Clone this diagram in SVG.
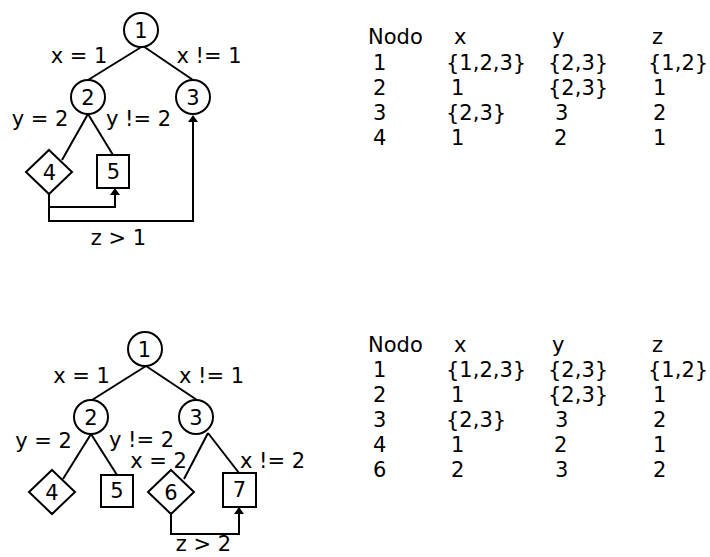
<svg xmlns="http://www.w3.org/2000/svg" width="710" height="557" viewBox="0 0 710 557">
  <style>
    text { font-family: "DejaVu Sans", "Liberation Sans", sans-serif; font-size: 21px; fill: #000; }
    .c { text-anchor: middle; }
    .shape { fill: #fff; stroke: #000; stroke-width: 2; }
    .edge { fill: none; stroke: #000; stroke-width: 2; }
    .arr { marker-end: url(#head); }
  </style>
  <defs>
    <marker id="head" markerUnits="userSpaceOnUse" viewBox="0 0 7 10" refX="0" refY="5" markerWidth="7" markerHeight="10" orient="auto">
      <path d="M0,0 L7,5 L0,10 z" fill="#000"/>
    </marker>
  </defs>

  <!-- ===== Upper tree ===== -->
  <g id="upper-connectors">
    <path class="edge" d="M143,46 L88,80"/>
    <path class="edge" d="M143,46 L193,80"/>
    <path class="edge" d="M88,114 L62,160"/>
    <path class="edge" d="M88,114 L113,155"/>
    <path class="edge arr" d="M49,194 V207 H115 V195"/>
    <path class="edge arr" d="M49,194 V221 H193 V122"/>
    <text class="c" x="79" y="63">x = 1</text>
    <text class="c" x="209" y="63">x != 1</text>
    <text class="c" x="40" y="126">y = 2</text>
    <text class="c" x="138.5" y="126">y != 2</text>
    <text class="c" x="118.5" y="245">z &gt; 1</text>
  </g>
  <g id="a-n1">
    <circle class="shape" cx="141" cy="30" r="17"/>
    <text class="c" x="141" y="37.5">1</text>
  </g>
  <g id="a-n2">
    <circle class="shape" cx="88" cy="97" r="17"/>
    <text class="c" x="88" y="105">2</text>
  </g>
  <g id="a-n3">
    <circle class="shape" cx="193" cy="97" r="17"/>
    <text class="c" x="193" y="105">3</text>
  </g>
  <g id="a-n4">
    <polygon class="shape" points="49,150 72,172 49,194 26,172"/>
    <text class="c" x="49.5" y="180">4</text>
  </g>
  <g id="a-n5">
    <rect class="shape" x="97" y="155" width="32" height="33"/>
    <text class="c" x="113.5" y="178.5">5</text>
  </g>

  <!-- Upper table -->
  <g id="a-table">
    <text x="368" y="44">Nodo</text>
    <text x="454" y="44">x</text>
    <text x="552" y="44">y</text>
    <text x="652" y="44">z</text>
    <text x="373" y="70">1</text>
    <text x="446" y="70">{1,2,3}</text>
    <text x="548" y="70">{2,3}</text>
    <text x="648" y="70">{1,2}</text>
    <text x="373" y="95">2</text>
    <text x="451" y="95">1</text>
    <text x="548" y="95">{2,3}</text>
    <text x="653" y="95">1</text>
    <text x="373" y="120">3</text>
    <text x="446" y="120">{2,3}</text>
    <text x="555" y="120">3</text>
    <text x="653" y="120">2</text>
    <text x="373" y="145">4</text>
    <text x="451" y="145">1</text>
    <text x="554" y="145">2</text>
    <text x="653" y="145">1</text>
  </g>

  <!-- ===== Lower tree ===== -->
  <g id="lower-connectors">
    <path class="edge" d="M146,366 L92,400"/>
    <path class="edge" d="M146,366 L197,400"/>
    <path class="edge" d="M91,434 L63,479"/>
    <path class="edge" d="M91,434 L117,475"/>
    <path class="edge" d="M208,433 L184,479"/>
    <path class="edge" d="M208,433 L239,473"/>
    <path class="edge arr" d="M171,514 V534 H239 V514"/>
    <text class="c" x="81.5" y="383">x = 1</text>
    <text class="c" x="211.5" y="383">x != 1</text>
    <text class="c" x="43.5" y="448">y = 2</text>
    <text class="c" x="141.5" y="447">y != 2</text>
    <text class="c" x="158.5" y="468">x = 2</text>
    <text class="c" x="272.5" y="468">x != 2</text>
    <text class="c" x="203.5" y="551">z &gt; 2</text>
  </g>
  <g id="b-n1">
    <circle class="shape" cx="145" cy="349" r="17"/>
    <text class="c" x="144.5" y="357">1</text>
  </g>
  <g id="b-n2">
    <circle class="shape" cx="91" cy="417" r="17"/>
    <text class="c" x="91" y="425">2</text>
  </g>
  <g id="b-n3">
    <circle class="shape" cx="196" cy="417" r="17"/>
    <text class="c" x="196" y="425">3</text>
  </g>
  <g id="b-n4">
    <polygon class="shape" points="52,470 75,492 52,514 29,492"/>
    <text class="c" x="52" y="500">4</text>
  </g>
  <g id="b-n5">
    <rect class="shape" x="101" y="475" width="32" height="32"/>
    <text class="c" x="117" y="498">5</text>
  </g>
  <g id="b-n6">
    <polygon class="shape" points="171,470 194,492 171,514 148,492"/>
    <text class="c" x="171" y="500">6</text>
  </g>
  <g id="b-n7">
    <rect class="shape" x="223" y="473" width="33" height="34"/>
    <text class="c" x="239.5" y="497">7</text>
  </g>

  <!-- Lower table -->
  <g id="b-table">
    <text x="368" y="352">Nodo</text>
    <text x="454" y="352">x</text>
    <text x="552" y="352">y</text>
    <text x="652" y="352">z</text>
    <text x="373" y="377">1</text>
    <text x="446" y="377">{1,2,3}</text>
    <text x="548" y="377">{2,3}</text>
    <text x="648" y="377">{1,2}</text>
    <text x="373" y="402">2</text>
    <text x="451" y="402">1</text>
    <text x="548" y="402">{2,3}</text>
    <text x="653" y="402">1</text>
    <text x="373" y="427">3</text>
    <text x="446" y="427">{2,3}</text>
    <text x="555" y="427">3</text>
    <text x="653" y="427">2</text>
    <text x="373" y="452">4</text>
    <text x="451" y="452">1</text>
    <text x="554" y="452">2</text>
    <text x="653" y="452">1</text>
    <text x="373" y="477">6</text>
    <text x="451" y="477">2</text>
    <text x="555" y="477">3</text>
    <text x="653" y="477">2</text>
  </g>
</svg>
